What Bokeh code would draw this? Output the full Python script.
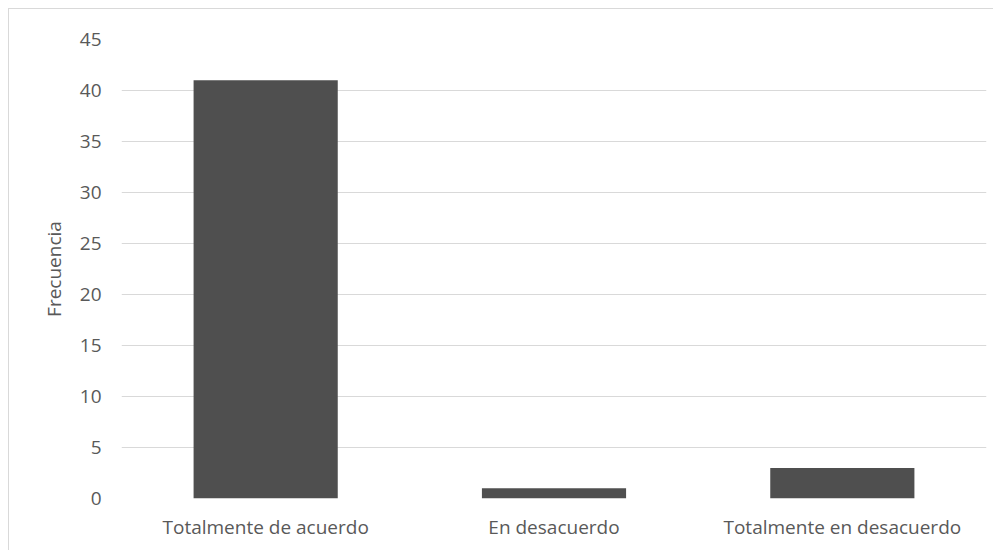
from bokeh.plotting import figure
from bokeh.models import Range1d, FixedTicker
from bokeh.embed import file_html
from bokeh.resources import INLINE

categories = ["Totalmente de acuerdo", "En desacuerdo", "Totalmente en desacuerdo"]
frecuencia = [41, 1, 3]
y_ticks = [0, 5, 10, 15, 20, 25, 30, 35, 40, 45]

p = figure(x_range=categories, width=985, height=542, output_backend="svg",
           toolbar_location=None, min_border_left=112, min_border_right=8,
           min_border_top=30, min_border_bottom=53)
p.styles = {"margin-left": "8px", "margin-top": "8px",
            "border-left": "1px solid #d9d9d9", "border-top": "1px solid #d9d9d9"}
p.y_range = Range1d(0, 45)
p.x_range.range_padding = 0

p.vbar(x=categories, top=frecuencia, width=0.5, fill_color="#4f4f4f", line_color=None)

p.outline_line_color = None
p.background_fill_color = "white"
p.border_fill_color = "white"

p.yaxis.ticker = FixedTicker(ticks=y_ticks)
p.ygrid.grid_line_color = "#d9d9d9"
p.ygrid.grid_line_width = 1
p.xgrid.grid_line_color = None

for ax in (p.xaxis[0], p.yaxis[0]):
    ax.axis_line_color = None
    ax.major_tick_line_color = None
    ax.minor_tick_line_color = None
    ax.major_label_text_color = "#595959"
    ax.major_label_text_font = "Open Sans"
    ax.major_label_text_font_size = "19px"

p.xaxis.major_label_standoff = 9
p.yaxis.major_label_standoff = 14
p.yaxis.axis_label = "Frecuencia"
p.yaxis.axis_label_text_font = "Open Sans"
p.yaxis.axis_label_text_font_size = "19px"
p.yaxis.axis_label_text_font_style = "normal"
p.yaxis.axis_label_text_color = "#595959"
p.yaxis.axis_label_standoff = 10

open("out.html", "w").write(file_html(p, INLINE))
